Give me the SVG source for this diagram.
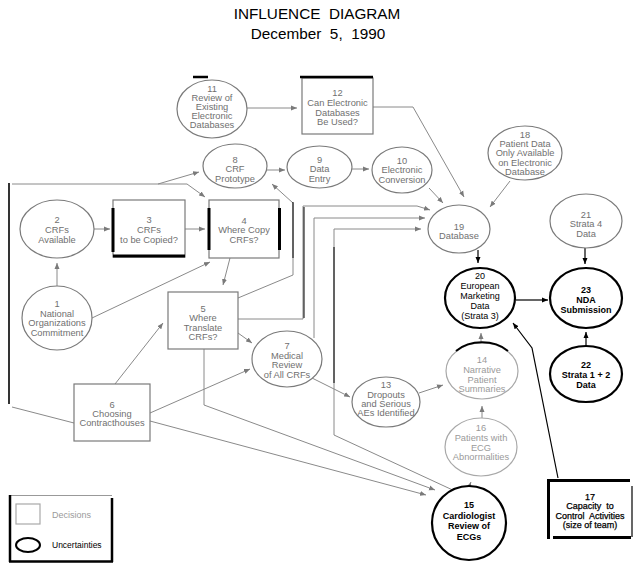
<svg xmlns="http://www.w3.org/2000/svg" width="639" height="565" viewBox="0 0 639 565">
<style>
text{font-family:"Liberation Sans",Arial,sans-serif;text-anchor:middle}
.t{font-size:9.3px;fill:#707070}
.tl{font-size:9.3px;fill:#9a9a9a}
.tb{font-size:9px;fill:#000}
.tbb{font-size:9px;fill:#000;font-weight:bold}
.title{font-size:15.3px;fill:#000;white-space:pre}
.g{fill:#fff;stroke:#7a7a7a;stroke-width:1.2}
.gl{fill:#fff;stroke:#a8a8a8;stroke-width:1.2}
.k{fill:#fff;stroke:#000;stroke-width:2.2}
.c{fill:none;stroke:#8a8a8a;stroke-width:1}
.ck{fill:none;stroke:#000;stroke-width:1.2}
.bar{stroke:#000;fill:none}
.t17{font-size:9px;fill:#000;stroke:#000;stroke-width:0.25;white-space:pre}
</style>
<defs>
<marker id="ag" markerUnits="userSpaceOnUse" markerWidth="7" markerHeight="6" refX="6" refY="3" orient="auto"><path d="M0,0.5 L6,3 L0,5.5 z" fill="#7a7a7a"/></marker>
<marker id="ak" markerUnits="userSpaceOnUse" markerWidth="7" markerHeight="6" refX="6" refY="3" orient="auto"><path d="M0,0.5 L6,3 L0,5.5 z" fill="#000"/></marker>
</defs>
<rect width="639" height="565" fill="#fff"/>
<text class="title" x="317" y="19">INFLUENCE  DIAGRAM</text>
<text class="title" x="318" y="39">December  5,  1990</text>

<g id="connectors">
<path class="c" d="M247,108 L297,108" marker-end="url(#ag)"/>
<path class="c" d="M373,107 H413 L464,197" marker-end="url(#ag)"/>
<path class="c" d="M510,181 L490,207" marker-end="url(#ag)"/>
<path class="c" d="M429,188 L443,203" marker-end="url(#ag)"/>
<path class="c" d="M352,169 L369,169" marker-end="url(#ag)"/>
<path class="c" d="M267,170 L285,170" marker-end="url(#ag)"/>
<path class="c" d="M94,229 L110,229" marker-end="url(#ag)"/>
<path class="c" d="M185,229 L205,229" marker-end="url(#ag)"/>
<path class="c" d="M12,184 H187 L205,197" marker-end="url(#ag)"/>
<path class="c" d="M158,184 L199,172" marker-end="url(#ag)"/>
<path class="c" d="M57,286 L57,263" marker-end="url(#ag)"/>
<path class="c" d="M92,318 L210,262" marker-end="url(#ag)"/>
<path class="c" d="M230,258 L223,285" marker-end="url(#ag)"/>
<path class="c" d="M238,333 L252,343" marker-end="url(#ag)"/>
<path class="c" d="M115,384 L163,323" marker-end="url(#ag)"/>
<path class="c" d="M150,413 L250,369" marker-end="url(#ag)"/>
<path class="c" d="M12,407 L74,423"/>
<path class="c" d="M150,421 L426,495" marker-end="url(#ag)"/>
<path class="c" d="M204,349 L204,405 L435,490" marker-end="url(#ag)"/>
<path class="c" d="M457,492 L334,435 L334,229 L421,229" marker-end="url(#ag)"/>
<path class="c" d="M238,319 H303 V206 H417 L430,210" marker-end="url(#ag)"/>
<path class="c" d="M314,338 V218 H425" marker-end="url(#ag)"/>
<path class="c" d="M238,298 L293,275 V203 L272,184" marker-end="url(#ag)"/>
<path class="c" d="M312,378 L350,397" marker-end="url(#ag)"/>
<path class="c" d="M419,393 L443,385" marker-end="url(#ag)"/>
<path class="c" d="M482,418 L482,406" marker-end="url(#ag)"/>
<path class="c" d="M481,344 L481,333" marker-end="url(#ag)"/>
<path class="c" d="M467,492 L471,482" marker-end="url(#ag)"/>
<path class="ck" d="M478,250 L478,263" marker-end="url(#ak)"/>
<path class="ck" d="M585,248 L585,264" marker-end="url(#ak)"/>
<path class="ck" d="M516,300 L548,300" marker-end="url(#ak)"/>
<path class="ck" d="M586,346 L586,332" marker-end="url(#ak)"/>
<path class="ck" d="M558,478 L532,348 L513,323" marker-end="url(#ak)"/>
<path class="bar" stroke-width="1.6" d="M9,183 V404"/>
<path class="bar" stroke-width="1" d="M304,207 V318"/>
<path class="bar" stroke-width="1" d="M334,247 V383"/>
<path class="bar" stroke-width="1" d="M293,202 V258"/>
</g>

<g id="n11">
<ellipse class="g" cx="212" cy="109" rx="35" ry="29"/>
<path class="bar" stroke-width="2.5" d="M193,77 H208"/>
<text class="t" x="212" y="91.5">11</text>
<text class="t" x="212" y="100.5">Review of</text>
<text class="t" x="212" y="109.5">Existing</text>
<text class="t" x="212" y="118.5">Electronic</text>
<text class="t" x="212" y="127.5">Databases</text>
</g>
<g id="n12">
<rect class="g" x="302" y="78" width="71" height="56"/>
<path class="bar" stroke-width="2.5" d="M300,77 H373"/>
<text class="t" x="337.5" y="95.5">12</text>
<text class="t" x="337.5" y="106">Can Electronic</text>
<text class="t" x="337.5" y="115.5">Databases</text>
<text class="t" x="337.5" y="125">Be Used?</text>
</g>
<g id="n8">
<ellipse class="g" cx="235" cy="166" rx="32" ry="22"/>
<text class="t" x="235" y="162.5">8</text>
<text class="t" x="235" y="172">CRF</text>
<text class="t" x="235" y="182">Prototype</text>
</g>
<g id="n9">
<ellipse class="g" cx="319.5" cy="167" rx="32.5" ry="21"/>
<text class="t" x="319.5" y="162.5">9</text>
<text class="t" x="319.5" y="172">Data</text>
<text class="t" x="319.5" y="182">Entry</text>
</g>
<g id="n10">
<ellipse class="g" cx="402" cy="170" rx="30" ry="23"/>
<text class="t" x="402" y="163.5">10</text>
<text class="t" x="402" y="173">Electronic</text>
<text class="t" x="402" y="182.5">Conversion</text>
</g>
<g id="n18">
<ellipse class="g" cx="525" cy="153" rx="37" ry="27"/>
<text class="t" x="525" y="137.5">18</text>
<text class="t" x="525" y="146.5">Patient Data</text>
<text class="t" x="525" y="156">Only Available</text>
<text class="t" x="525" y="165.5">on Electronic</text>
<text class="t" x="525" y="175">Database</text>
</g>
<g id="n19">
<ellipse class="g" cx="459" cy="229" rx="31" ry="24"/>
<text class="t" x="459" y="229.5">19</text>
<text class="t" x="459" y="238.5">Database</text>
</g>
<g id="n21">
<ellipse class="g" cx="586" cy="221" rx="36" ry="27"/>
<text class="t" x="586" y="217.5">21</text>
<text class="t" x="586" y="226.5">Strata 4</text>
<text class="t" x="586" y="236.5">Data</text>
</g>
<g id="n2">
<ellipse class="g" cx="57" cy="229" rx="37" ry="29"/>
<text class="t" x="57" y="222.5">2</text>
<text class="t" x="57" y="232.5">CRFs</text>
<text class="t" x="57" y="242.5">Available</text>
</g>
<g id="n3">
<rect class="g" x="113" y="200" width="72" height="57"/>
<path class="bar" stroke-width="3" d="M113,208 V252 M113,256 H185"/>
<text class="t" x="149" y="222.5">3</text>
<text class="t" x="149" y="232.5">CRFs</text>
<text class="t" x="149" y="242.5">to be Copied?</text>
</g>
<g id="n4">
<rect class="g" x="209" y="200" width="70" height="58"/>
<path class="bar" stroke-width="3" d="M209,208 V250 M279.5,208 V250"/>
<text class="t" x="244" y="223.5">4</text>
<text class="t" x="244" y="232.5">Where Copy</text>
<text class="t" x="244" y="242.5">CRFs?</text>
</g>
<g id="n1">
<ellipse class="g" cx="57" cy="318" rx="35" ry="32"/>
<text class="t" x="57" y="306.5">1</text>
<text class="t" x="57" y="316.5">National</text>
<text class="t" x="57" y="325.5">Organizations</text>
<text class="t" x="57" y="335.5">Commitment</text>
</g>
<g id="n5">
<rect class="g" x="168" y="292" width="70" height="57"/>
<text class="t" x="203" y="311.5">5</text>
<text class="t" x="203" y="320.5">Where</text>
<text class="t" x="203" y="330.5">Translate</text>
<text class="t" x="203" y="339.5">CRFs?</text>
</g>
<g id="n7">
<ellipse class="g" cx="287" cy="359" rx="35" ry="28"/>
<text class="t" x="287" y="348.5">7</text>
<text class="t" x="287" y="358.5">Medical</text>
<text class="t" x="287" y="367.5">Review</text>
<text class="t" x="287" y="377.5">of All CRFs</text>
</g>
<g id="n6">
<rect class="g" x="74" y="384" width="76" height="57"/>
<text class="t" x="112" y="407.5">6</text>
<text class="t" x="112" y="416.5">Choosing</text>
<text class="t" x="112" y="425.5">Contracthouses</text>
</g>
<g id="n13">
<ellipse class="g" cx="386" cy="402" rx="34" ry="25"/>
<text class="t" x="386" y="387.5">13</text>
<text class="t" x="386" y="397.5">Dropouts</text>
<text class="t" x="386" y="406.5">and Serious</text>
<text class="t" x="386" y="415.5">AEs Identified</text>
</g>
<g id="n14">
<ellipse class="gl" cx="482" cy="371" rx="36" ry="28"/>
<path class="bar" stroke-width="2" d="M456,351 A36,28 0 0 1 508,351"/>
<text class="tl" x="482" y="363">14</text>
<text class="tl" x="482" y="373">Narrative</text>
<text class="tl" x="482" y="382.5">Patient</text>
<text class="tl" x="482" y="391.5">Summaries</text>
</g>
<g id="n16">
<ellipse class="gl" cx="481" cy="447" rx="36" ry="29"/>
<text class="tl" x="481" y="430.5">16</text>
<text class="tl" x="481" y="440.5">Patients with</text>
<text class="tl" x="481" y="450.5">ECG</text>
<text class="tl" x="481" y="459.5">Abnormalities</text>
</g>
<g id="n20">
<ellipse class="k" cx="480" cy="298" rx="35" ry="30"/>
<text class="tb" x="480" y="279">20</text>
<text class="tb" x="480" y="289">European</text>
<text class="tb" x="480" y="299">Marketing</text>
<text class="tb" x="480" y="309">Data</text>
<text class="tb" x="480" y="319">(Strata 3)</text>
</g>
<g id="n23">
<ellipse class="k" cx="586" cy="298" rx="36" ry="30"/>
<text class="tbb" x="586" y="292.5">23</text>
<text class="tbb" x="586" y="302.5">NDA</text>
<text class="tbb" x="586" y="312.5">Submission</text>
</g>
<g id="n22">
<ellipse class="k" cx="586" cy="374" rx="36" ry="28"/>
<text class="tbb" x="586" y="367.5">22</text>
<text class="tbb" x="586" y="377.5">Strata 1 + 2</text>
<text class="tbb" x="586" y="387.5">Data</text>
</g>
<g id="n15">
<ellipse class="k" cx="469" cy="523" rx="37" ry="37"/>
<text class="tbb" x="469" y="508">15</text>
<text class="tbb" x="469" y="518.5">Cardiologist</text>
<text class="tbb" x="469" y="529">Review of</text>
<text class="tbb" x="469" y="539.5">ECGs</text>
</g>
<g id="n17">
<rect x="548" y="481" width="83" height="57" fill="#fff" stroke="none"/>
<path class="bar" stroke-width="3" d="M548.5,479.5 V539 M547,480.5 H630 M553,537.5 H631"/>
<path class="bar" stroke-width="1.2" d="M632,486 V537"/>
<text class="t17" x="590" y="499.5">17</text>
<text class="t17" x="590" y="509">Capacity  to</text>
<text class="t17" x="590" y="518.5">Control  Activities</text>
<text class="t17" x="590" y="528">(size of team)</text>
</g>
<g id="legend">
<path stroke="#999" stroke-width="1.2" fill="none" d="M10,495.5 H112"/>
<path class="bar" stroke-width="2.5" d="M10,495 V562 M9,561.5 H113 M112,498 V562"/>
<rect class="gl" x="16" y="504" width="24" height="20"/>
<text class="tl" x="52" y="518" style="text-anchor:start;font-size:9px">Decisions</text>
<ellipse cx="28" cy="545" rx="12" ry="7" fill="#fff" stroke="#000" stroke-width="2"/>
<text class="tb" x="52" y="548" style="text-anchor:start;font-size:8.5px">Uncertainties</text>
</g>
</svg>
